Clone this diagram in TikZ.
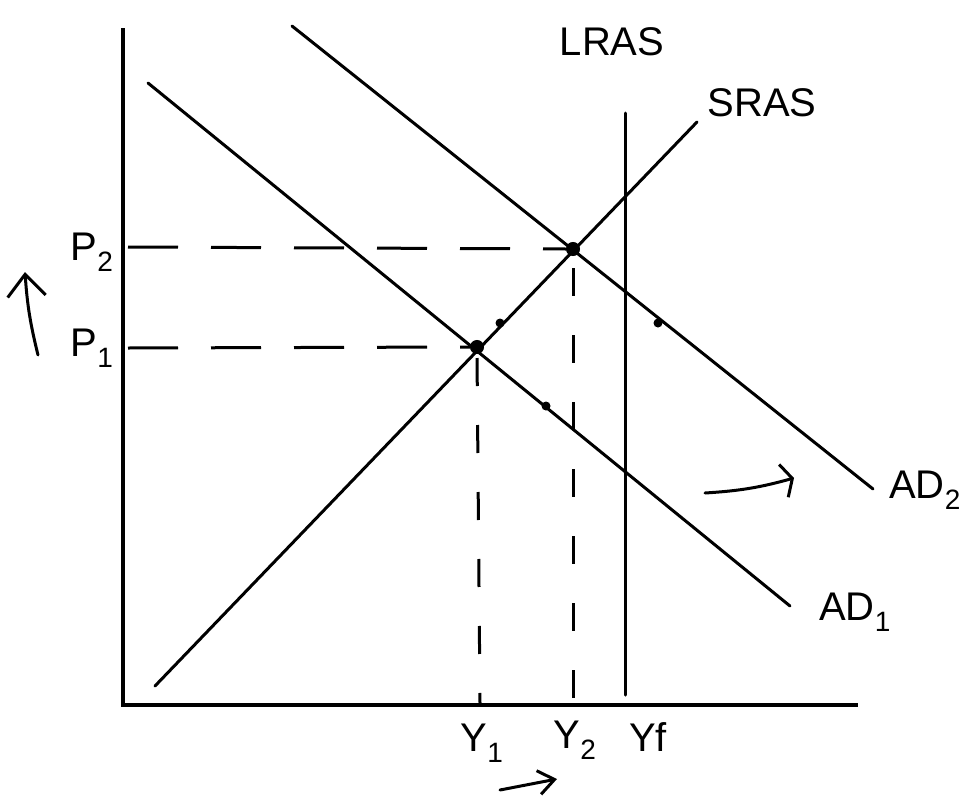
\documentclass[tikz,border=0pt]{standalone}
\usepackage{fontspec}
\setmainfont{Liberation Sans}
\usetikzlibrary{arrows.meta}
\begin{document}
\begin{tikzpicture}[x=1pt,y=-1pt,
  curve/.style={line width=3pt,line cap=round},
  axis/.style={line width=3.2pt},
  guide/.style={line width=3pt,dash pattern=on 50pt off 33pt},
  vguide/.style={line width=3pt,dash pattern=on 28pt off 39pt},
  lbl/.style={font=\fontsize{40}{44}\selectfont,inner sep=0pt},
  eq/.style={circle,fill=black,draw=black,line width=1pt,minimum size=13pt,inner sep=0pt},
  mk/.style={circle,fill=black,minimum size=9pt,inner sep=0pt},
  hand/.style={line width=3pt,line cap=round},
  uphead/.style={-{Straight Barb[length=22pt,width=38pt,line width=3pt]}},
  rhead/.style={-{Straight Barb[length=9pt,width=34pt,line width=3pt]}},
  bhead/.style={-{Straight Barb[length=16pt,width=24pt,line width=3pt]}}]
\useasboundingbox (0,0) rectangle (964,798);
% axes
\coordinate (O) at (123,705);
\coordinate (ytop) at (123,28);
\coordinate (xend) at (858,705);
\draw[axis] (ytop) -- (O) -- (xend);
% curves
\coordinate (ad1a) at (148,83);  \coordinate (ad1b) at (790,606);
\coordinate (ad2a) at (292,26);  \coordinate (ad2b) at (873,489);
\coordinate (sa) at (155,686);   \coordinate (sb) at (697,122);
\coordinate (la) at (625,113);   \coordinate (lb) at (625,695);
\draw[curve] (ad1a) -- (ad1b);
\draw[curve] (ad2a) -- (ad2b);
\draw[curve] (sa) -- (sb);
\draw[curve] (la) -- (lb);
% equilibria
\node[eq] (E1) at (477,347) {};
\node[eq] (E2) at (573,249) {};
\node[mk] (m1) at (500,323) {};
\node[mk] (m2) at (546,406) {};
\node[mk] (m3) at (658,323) {};
% guides
\coordinate (p1a) at (128,348);
\coordinate (p2a) at (128,247);
\coordinate (y1b) at (480,703);
\coordinate (y2b) at (573,703);
\draw[guide] (p2a) -- (E2.west);
\draw[guide] (p1a) -- (E1.west);
\draw[vguide,dash phase=-4pt] (E1.south) -- (y1b);
\draw[vguide,dash phase=-12pt] (E2.south) -- (y2b);
% labels
\node[lbl] (P2) at (92,252) {P\textsubscript{2}};
\node[lbl] (P1) at (92,348) {P\textsubscript{1}};
\node[lbl] (LRAS) at (612,42) {LRAS};
\node[lbl] (SRAS) at (762,103) {SRAS};
\node[lbl] (AD2) at (925,490) {AD\textsubscript{2}};
\node[lbl] (AD1) at (855,612) {AD\textsubscript{1}};
\node[lbl] (Y1) at (482,743) {Y\textsubscript{1}};
\node[lbl] (Y2) at (575,740) {Y\textsubscript{2}};
\node[lbl] (Yf) at (648,737) {Yf};
% hand arrows
\coordinate (ua) at (38,355); \coordinate (ub) at (25,272);
\coordinate (ma) at (705,493); \coordinate (mb) at (794,478);
\coordinate (ba) at (500,790); \coordinate (bb) at (557,779);
\draw[hand,uphead] (ua) to[bend left=5] (ub);
\draw[hand,rhead] (ma) to[bend right=6] (mb);
\draw[hand,bhead] (ba) -- (bb);
\end{tikzpicture}
\end{document}
